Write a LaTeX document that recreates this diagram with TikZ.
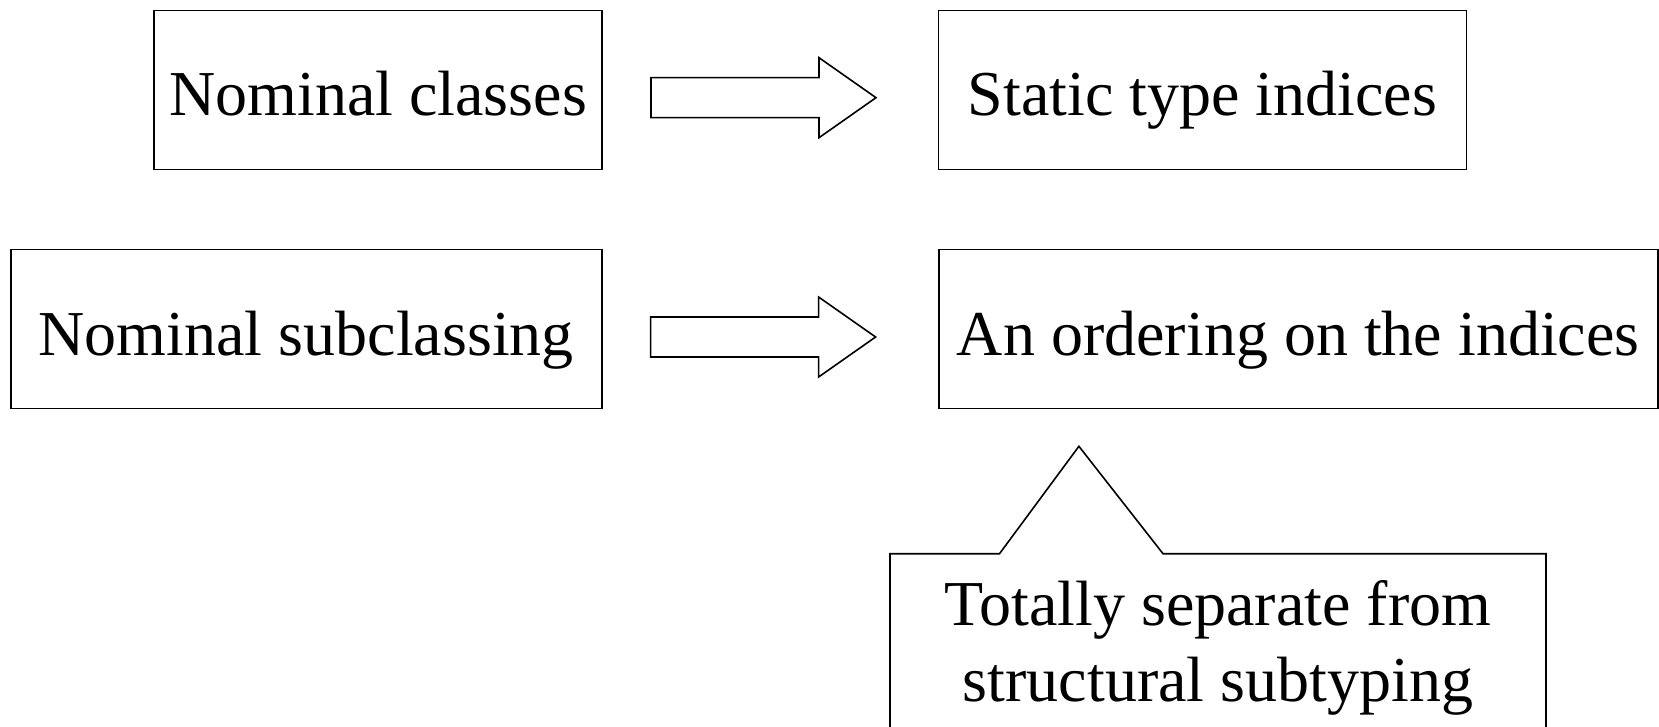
\documentclass[tikz,border=0pt]{standalone}
\usepackage{fontspec}
\setmainfont{Liberation Serif}
\usetikzlibrary{calc}

\tikzset{
  box/.style={draw, line width=1.6pt, inner sep=0pt, minimum height=159pt,
    text height=54pt, text depth=2pt, font=\fontsize{64}{76}\selectfont},
  blockarrow/.style={draw, line width=1.6pt, line join=miter},
}

\begin{document}
\begin{tikzpicture}[x=1pt, y=-1pt]
  \useasboundingbox (0,0) rectangle (1659,727);
  \clip (0,0) rectangle (1659,727);
  \node[box, minimum width=448pt] (classes) at (378.2,90) {Nominal classes};
  \node[box, minimum width=591pt] (subclassing) at (306.3,329) {Nominal subclassing};
  \node[box, minimum width=528pt] (indices) at (1202.5,90) {Static type indices};
  \node[box, minimum width=719pt] (ordering) at (1298.2,329) {An ordering on the indices};

  \coordinate (arrA) at ($(classes.east) + (48,7.7)$);
  \coordinate (arrB) at ($(subclassing.east) + (48,8)$);
  \draw[blockarrow] (arrA) ++(0,-20) -- ++(168,0) -- ++(0,-20) -- ++(57,40)
    -- ++(-57,40) -- ++(0,-20) -- ++(-168,0) -- cycle;
  \draw[blockarrow] (arrB) ++(0,-20) -- ++(168,0) -- ++(0,-20) -- ++(57,40)
    -- ++(-57,40) -- ++(0,-20) -- ++(-168,0) -- cycle;

  \node[align=center, font=\fontsize{64}{76}\selectfont] (note) at (1218,648)
    {Totally separate from\\structural subtyping};
  \coordinate (tip) at ($(ordering.south west) + (141,37)$);
  \draw[blockarrow] (890,800) -- (890,553.7) -- (999.5,553.7) -- (tip)
    -- (1163,553.7) -- (1546,553.7) -- (1546,800);
\end{tikzpicture}
\end{document}
